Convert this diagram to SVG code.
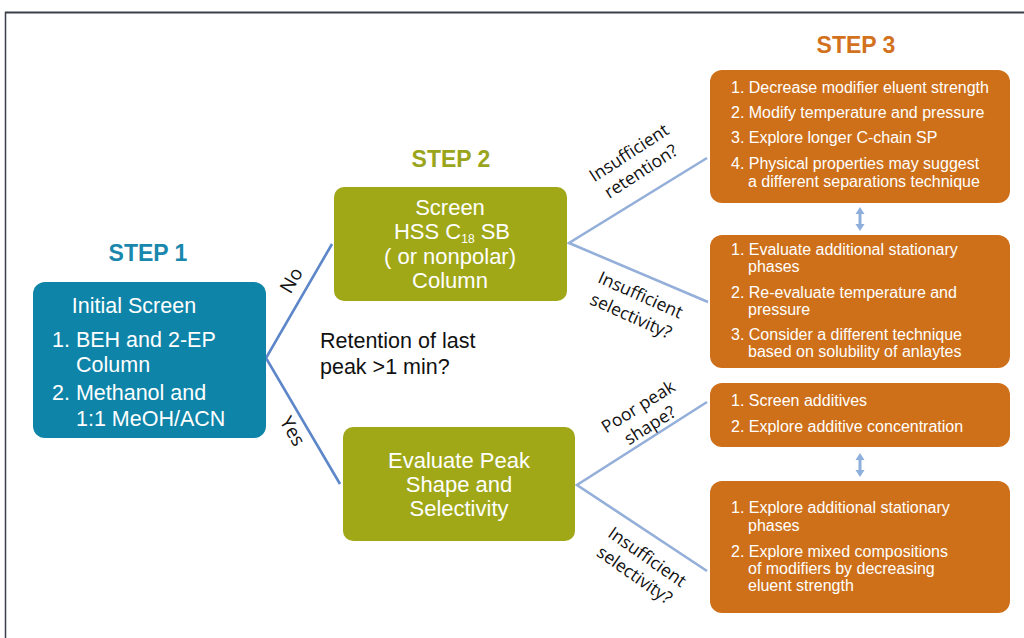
<svg xmlns="http://www.w3.org/2000/svg" width="1024" height="638" viewBox="0 0 1024 638">
<style>
.step{font-family:"Liberation Sans",Arial,sans-serif;font-weight:bold;font-size:23px;text-anchor:middle}
.wt{font-family:"Liberation Sans",Arial,sans-serif;fill:#ffffff}
.g{font-size:22px;text-anchor:middle}
.o{font-size:16px}
.lbl{font-family:"Open Sans","Noto Sans",sans-serif;font-size:17.5px;fill:#111111;text-anchor:middle}
.yn{font-size:19px}
.c1{stroke:#5d87c9;stroke-width:2.6;fill:none}
.c2{stroke:#94afd9;stroke-width:2.6;fill:none}
</style>
<rect width="1024" height="638" fill="#ffffff"/>
<g id="frame">
<line x1="5" y1="12.5" x2="1024" y2="12.5" stroke="#3a3f4a" stroke-width="2"/>
<line x1="5.5" y1="12" x2="5.5" y2="638" stroke="#3a3f4a" stroke-width="1.5"/>
</g>
<g id="connectors">
<polyline class="c1" points="332,244 266,358 340,484"/>
<polyline class="c2" points="707,158 569,243 708,302"/>
<polyline class="c2" points="707,402 577,485 707,571"/>
<path d="M860,207 L864.5,214 L861.5,214 L861.5,224 L864.5,224 L860,231 L855.5,224 L858.5,224 L858.5,214 L855.5,214 Z" fill="#8eaedb"/>
<path d="M860,453 L864.5,460 L861.5,460 L861.5,470 L864.5,470 L860,477 L855.5,470 L858.5,470 L858.5,460 L855.5,460 Z" fill="#8eaedb"/>
<text class="lbl yn" transform="translate(291,280) rotate(-60)"><tspan x="0" y="7">No</tspan></text>
<text class="lbl yn" transform="translate(293,431) rotate(60)"><tspan x="0" y="7">Yes</tspan></text>
<text class="lbl" transform="translate(635,162) rotate(-33)"><tspan x="0" y="-5">Insufficient</tspan><tspan x="0" y="17">retention?</tspan></text>
<text class="lbl" transform="translate(636,305) rotate(24)"><tspan x="0" y="-5">Insufficient</tspan><tspan x="0" y="18">selectivity?</tspan></text>
<text class="lbl" transform="translate(644,416) rotate(-32)"><tspan x="0" y="-5">Poor peak</tspan><tspan x="0" y="17">shape?</tspan></text>
<text class="lbl" transform="translate(641,566) rotate(35)"><tspan x="0" y="-5">Insufficient</tspan><tspan x="0" y="17">selectivity?</tspan></text>
</g>
<g id="step1">
<text class="step" x="148" y="261" fill="#1a87ad">STEP 1</text>
<rect x="33" y="282" width="233" height="156" rx="12" fill="#0e84a8"/>
<text class="wt" font-size="21.5px"><tspan x="134" y="313" text-anchor="middle">Initial Screen</tspan><tspan x="52" y="347">1. BEH and 2-EP</tspan><tspan x="76" y="372">Column</tspan><tspan x="52" y="400">2. Methanol and</tspan><tspan x="76" y="426">1:1 MeOH/ACN</tspan></text>
</g>
<g id="question">
<text font-family="Liberation Sans,Arial,sans-serif" font-size="21.5px" fill="#111111"><tspan x="320" y="348">Retention of last</tspan><tspan x="320" y="374">peak &gt;1 min?</tspan></text>
</g>
<g id="step2a">
<text class="step" x="451" y="167" fill="#9aa51c">STEP 2</text>
<rect x="334" y="187" width="233" height="114" rx="10" fill="#a0a818"/>
<text class="wt g" x="450" y="215">Screen</text>
<text class="wt g" x="452" y="239">HSS C<tspan font-size="12px" baseline-shift="-4">18</tspan> SB</text>
<text class="wt g" x="450" y="264">( or nonpolar)</text>
<text class="wt g" x="450" y="288">Column</text>
</g>
<g id="step2b">
<rect x="343" y="427" width="232" height="114" rx="10" fill="#a0a818"/>
<text class="wt g"><tspan x="459" y="468">Evaluate Peak</tspan><tspan x="459" y="492">Shape and</tspan><tspan x="459" y="516">Selectivity</tspan></text>
</g>
<g id="step3a">
<text class="step" x="856" y="53" fill="#d2721e">STEP 3</text>
<rect x="710" y="70" width="300" height="133" rx="12" fill="#ce701a"/>
<text class="wt o"><tspan x="731" y="93">1. Decrease modifier eluent strength</tspan><tspan x="731" y="118">2. Modify temperature and pressure</tspan><tspan x="731" y="143">3. Explore longer C-chain SP</tspan><tspan x="731" y="169">4. Physical properties may suggest</tspan><tspan x="748" y="187">a different separations technique</tspan></text>
</g>
<g id="step3b">
<rect x="710" y="235" width="300" height="133" rx="12" fill="#ce701a"/>
<text class="wt o"><tspan x="731" y="255">1. Evaluate additional stationary</tspan><tspan x="748" y="272">phases</tspan><tspan x="731" y="298">2. Re-evaluate temperature and</tspan><tspan x="748" y="315">pressure</tspan><tspan x="731" y="340">3. Consider a different technique</tspan><tspan x="748" y="357">based on solubility of anlaytes</tspan></text>
</g>
<g id="step3c">
<rect x="710" y="383" width="300" height="64" rx="12" fill="#ce701a"/>
<text class="wt o"><tspan x="731" y="406">1. Screen additives</tspan><tspan x="731" y="432">2. Explore additive concentration</tspan></text>
</g>
<g id="step3d">
<rect x="710" y="481" width="300" height="132" rx="12" fill="#ce701a"/>
<text class="wt o"><tspan x="731" y="513">1. Explore additional stationary</tspan><tspan x="748" y="531">phases</tspan><tspan x="731" y="557">2. Explore mixed compositions</tspan><tspan x="748" y="574">of modifiers by decreasing</tspan><tspan x="748" y="591">eluent strength</tspan></text>
</g>
</svg>
